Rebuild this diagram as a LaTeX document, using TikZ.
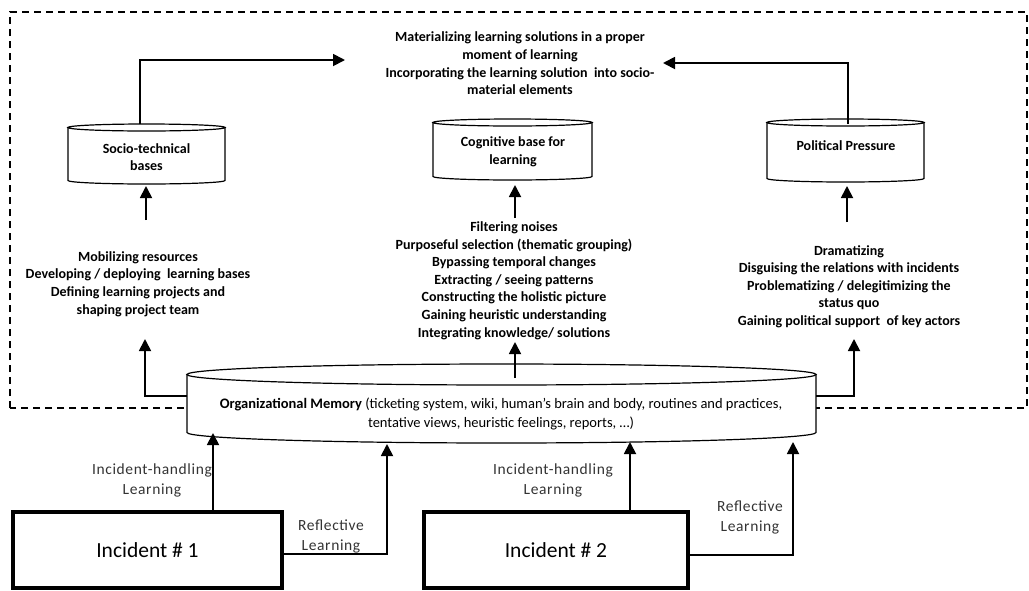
\documentclass[tikz,border=0pt]{standalone}
\usepackage{fontspec}
\setmainfont{Carlito}
\usetikzlibrary{arrows.meta}

% cylinder drawn from its left/right x, top/bottom y and end-ellipse radius
\newcommand\drumcyl[6]{% #1 name, #2 L, #3 R, #4 T, #5 B, #6 r
  \pgfmathsetmacro\drx{(#3-#2)/2}%
  \pgfmathsetmacro\dcx{(#3+#2)/2}%
  \pgfmathsetmacro\dtop{#4+#6}%
  \pgfmathsetmacro\dbot{#5-#6}%
  \draw[drum] (#2,\dtop) -- (#2,\dbot)
     arc[start angle=180,end angle=360,x radius=\drx pt,y radius=#6pt]
     -- (#3,\dtop) -- cycle;
  \draw[drum] (\dcx,\dtop) ellipse[x radius=\drx pt,y radius=#6pt];
  \coordinate (#1-n) at (\dcx,#4);
  \coordinate (#1-s) at (\dcx,#5);
}

\begin{document}
\begin{tikzpicture}[x=1pt,y=-1pt,
  drum/.style={line width=1.2pt,fill=white},
  link/.style={line width=1.8pt},
  conn/.style={line width=1.8pt,-{Triangle[width=12pt,length=12pt]}},
  boldtext/.style={align=center,inner sep=0pt,text=black,
    font=\fontsize{14}{17.6}\selectfont\bfseries},
  flowlabel/.style={align=center,inner sep=0pt,text=black!80,
    font=\fontsize{15.5}{20}\selectfont\addfontfeature{LetterSpace=4}},
  incbox/.style={draw,line width=4pt,fill=white,inner sep=0pt,
    font=\fontsize{21.5}{24}\selectfont},
  frame/.style={line width=1.5pt,dash pattern=on 7pt off 5pt}
]
\useasboundingbox (0,0) rectangle (1029,590);

% dashed frame around the learning moment
\draw[frame] (10,408) -- (10,12) -- (1027,12) -- (1027,408) -- cycle;

% top goal
\node[boldtext] (goal) at (520,63.5)
  {Materializing learning solutions in a proper\\moment of learning\\
   Incorporating the learning solution\ \ into socio-\\material elements};

% three bases
\drumcyl{socio}{68}{225}{124}{184}{3.5}
\drumcyl{cogn}{433}{592}{119}{180}{3.5}
\drumcyl{polit}{767}{924}{119}{182}{3.5}
\node[boldtext] (sociot) at (146.5,157) {Socio-technical\\bases};
\node[boldtext] (cognt) at (513,152) {Cognitive base for\\learning};
\node[boldtext] (politt) at (846,146) {Political Pressure};

% lists of practices
\node[boldtext] (socl) at (138,284)
  {Mobilizing resources\\Developing / deploying\ \ learning bases\\
   Defining learning projects and\\shaping project team};
\node[boldtext] (cogl) at (514,280.5)
  {Filtering noises\\Purposeful selection (thematic grouping)\\
   Bypassing temporal changes\\Extracting / seeing patterns\\
   Constructing the holistic picture\\Gaining heuristic understanding\\
   Integrating knowledge/ solutions};
\node[boldtext] (poll) at (849,286.5)
  {Dramatizing\\Disguising the relations with incidents\\
   Problematizing / delegitimizing the\\status quo\\
   Gaining political support\ \ of key actors};

% organizational memory
\drumcyl{om}{187}{816}{364}{443}{10.5}
\node[align=center,inner sep=0pt,font=\fontsize{14.5}{19}\selectfont] (omt) at (501,414)
  {\textbf{Organizational Memory} (ticketing system, wiki, human’s brain and body, routines and practices,\\
   tentative views, heuristic feelings, reports, …)};

% incidents
\node[incbox,minimum width=269pt,minimum height=76pt] (inc1) at (147.5,550) {Incident \# 1};
\node[incbox,minimum width=264pt,minimum height=76pt] (inc2) at (556,550) {Incident \# 2};

% connectors: bases to the goal
\coordinate (socup) at (140,124);
\coordinate (goalw) at (345,60);
\coordinate (polup) at (848,124);
\coordinate (goale) at (663,63);
\draw[conn] (socup) |- (goalw);
\draw[conn] (polup) |- (goale);

% connectors: practices to bases
\draw[conn] (146,220) coordinate (soclt) -- (146,186) coordinate (socb);
\draw[conn] (515,218) coordinate (coglt) -- (515,185) coordinate (cogb);
\draw[conn] (847,222) coordinate (pollt) -- (847,186) coordinate (polb);

% connectors: memory to practices
\coordinate (omw) at (187,396);
\coordinate (ome) at (816,396);
\coordinate (omn) at (515,378);
\draw[conn] (omw) -| (145,339) coordinate (soclb);
\draw[conn] (omn) -- (515,342) coordinate (coglb);
\draw[conn] (ome) -| (854,339) coordinate (pollb);

% connectors: incidents to memory
\coordinate (h1) at (213,512);
\coordinate (h1t) at (213,433);
\coordinate (r1) at (282,554);
\coordinate (r1t) at (387,444);
\coordinate (h2) at (630,513);
\coordinate (h2t) at (630,442);
\coordinate (r2) at (688,555);
\coordinate (r2t) at (793,442);
\draw[conn] (h1) -- (h1t);
\draw[conn] (r1) -| (r1t);
\draw[conn] (h2) -- (h2t);
\draw[conn] (r2) -| (r2t);

\node[flowlabel] (h1l) at (152,480) {Incident-handling\\Learning};
\node[flowlabel] (r1l) at (331,536) {Reflective\\Learning};
\node[flowlabel] (h2l) at (553,480.5) {Incident-handling\\Learning};
\node[flowlabel] (r2l) at (750,517) {Reflective\\Learning};
\end{tikzpicture}
\end{document}
